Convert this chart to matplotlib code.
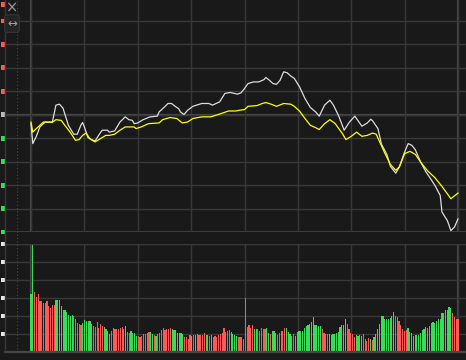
import numpy as np
import matplotlib
matplotlib.use("Agg")
import matplotlib.pyplot as plt
from matplotlib.lines import Line2D

# ---------------- data ----------------
# price line (percent change vs previous close) sampled at trading minutes
price_t = [0, 1, 3, 5, 8, 12, 14, 16, 18, 21, 24, 26, 28, 29, 30, 32, 34, 36, 38, 40,
           43, 44, 47, 50, 53, 55, 57, 58, 60, 63, 67, 71, 72, 75, 77, 79, 81, 83, 84, 86,
           88, 91, 96, 100, 102, 106, 109, 112, 116, 118, 120, 122, 125, 128, 131, 132, 134, 136, 138, 140,
           142, 144, 146, 148, 151, 154, 157, 160, 162, 165, 168, 170, 173, 176, 179, 182, 186, 189, 191, 192,
           195, 197, 200, 202, 205, 207, 210, 212, 214, 216, 219, 222, 224, 227, 230, 231, 234, 236, 238, 240]
price_p = [-0.38, -1.23, -0.92, -0.52, -0.31, -0.31, 0.41, 0.45, 0.28, -0.45, -0.83, -0.83, -0.45, -0.33, -0.52, -0.97, -1.06, -1.12, -0.88, -0.66,
           -0.66, -0.74, -0.69, -0.31, -0.09, -0.21, -0.24, -0.38, -0.35, -0.21, -0.09, -0.06, 0.12, 0.33, 0.48, 0.48, 0.36, 0.26, 0.12, 0.01,
           0.19, 0.36, 0.48, 0.48, 0.41, 0.55, 0.91, 0.95, 0.88, 0.93, 1.12, 1.33, 1.40, 1.40, 1.50, 1.59, 1.47, 1.33, 1.30, 1.47,
           1.83, 1.79, 1.65, 1.55, 1.18, 0.69, 0.31, 0.12, -0.06, 0.41, 0.62, 0.41, -0.06, -0.66, -0.31, -0.06, -0.49, -0.35, -0.19, -0.26,
           -0.59, -1.26, -1.69, -2.20, -2.49, -2.23, -1.59, -1.23, -1.30, -1.49, -2.02, -2.44, -2.66, -3.01, -3.44, -4.15, -4.51, -4.94, -4.79, -4.44]

# average price line
avg_t = [0, 1, 3, 7, 12, 14, 17, 19, 22, 25, 27, 29, 31, 33, 36, 39, 42, 44, 47, 50,
         53, 58, 59, 62, 66, 72, 74, 78, 82, 85, 88, 91, 96, 101, 104, 108, 111, 115, 117, 120,
         122, 127, 130, 132, 135, 138, 142, 146, 148, 151, 154, 157, 160, 162, 165, 168, 171, 175, 177, 180,
         183, 186, 189, 192, 194, 196, 199, 202, 205, 207, 210, 213, 216, 220, 223, 227, 231, 234, 236, 240]
avg_p = [-0.31, -0.74, -0.59, -0.31, -0.32, -0.21, -0.24, -0.45, -0.74, -1.09, -1.06, -0.88, -0.78, -1.02, -1.16, -1.02, -0.88, -0.88, -0.83, -0.66,
         -0.52, -0.52, -0.59, -0.52, -0.38, -0.35, -0.21, -0.12, -0.16, -0.35, -0.31, -0.16, -0.09, -0.09, -0.02, 0.08, 0.16, 0.16, 0.19, 0.22,
         0.36, 0.39, 0.48, 0.52, 0.45, 0.36, 0.48, 0.45, 0.36, 0.15, -0.16, -0.45, -0.55, -0.63, -0.38, -0.21, -0.38, -0.80, -1.06, -0.92,
         -0.74, -0.92, -0.88, -0.78, -0.83, -1.16, -1.66, -2.12, -2.37, -2.23, -1.66, -1.56, -1.69, -2.12, -2.40, -2.68, -3.06, -3.37, -3.58, -3.34]

# per-minute volume
volume = [58, 107, 60, 55, 58, 51, 51, 49, 49, 51, 46, 44, 47, 47, 52, 52, 52, 46, 42, 42,
          40, 37, 36, 37, 36, 33, 29, 28, 27, 29, 32, 31, 31, 31, 28, 26, 25, 30, 24, 28,
          26, 25, 23, 21, 18, 21, 24, 23, 23, 23, 24, 25, 23, 26, 20, 19, 21, 19, 19, 16,
          16, 15, 16, 18, 18, 19, 20, 20, 18, 17, 16, 18, 19, 22, 24, 22, 23, 23, 24, 23,
          22, 22, 19, 19, 19, 18, 15, 15, 13, 17, 16, 17, 17, 18, 17, 17, 17, 19, 17, 17,
          16, 17, 15, 16, 15, 17, 18, 19, 24, 20, 21, 22, 20, 18, 17, 16, 15, 15, 15, 13,
          54, 25, 27, 24, 27, 23, 23, 23, 21, 24, 23, 23, 24, 19, 18, 21, 21, 19, 17, 19,
          21, 21, 24, 24, 20, 18, 16, 18, 16, 20, 21, 21, 21, 24, 26, 27, 28, 30, 35, 27,
          27, 26, 26, 23, 19, 18, 18, 18, 17, 18, 18, 19, 20, 25, 27, 27, 33, 28, 23, 19,
          18, 15, 17, 16, 17, 16, 18, 13, 11, 14, 13, 12, 15, 18, 23, 28, 36, 36, 33, 33,
          33, 34, 36, 40, 36, 35, 31, 27, 23, 21, 22, 24, 20, 19, 16, 17, 17, 17, 19, 22,
          23, 25, 24, 26, 29, 30, 29, 31, 33, 33, 39, 39, 42, 42, 45, 44, 39, 35, 33, 33]

# R = up minute (red), G = down minute (green)
direction = ("GG RRRRRRRRRRRR GGGGGGGGGG RRRRR GGGGGG RRRRRR GGGG RRRRRRRR G RR GGGG RRRRRRR GG R G RRRRRRRR G "
             "GGGGGG RRRR G R G RRRRR GG R G RRRRRRRRRR GGGG RRRRRRRRR GG RRRRR GG R GGG RRRRR GGGG R GGGGGGGGGGGGGG "
             "G RRRR GGGGGGGGGG RRRRR GGGG RRRR G R GGGGGGGGGGGG RRRRRRR GGGGGGGGGGGGGGGGGGGGGGGGG RRRR").replace(" ", "")

price_ticks = [-5, -4, -3, -2, -1, 0, 1, 2, 3, 4, 5]
price_label_marks = [-5, -4, -3, -2, -1, 0, 1, 2, 3, 4, 4.7]
vol_ticks = [0, 18, 36, 54, 72, 90, 108]
vol_label_marks = [18, 36, 54, 72, 90, 108]

# ---------------- style ----------------
BG = "#191919"
GRID = "#383838"
GRID2 = "#474747"
RED = "#ff5858"
GREEN = "#38dc58"
W, H = 466, 360
PXM = 427 / 240.0  # pixels per minute

fig = plt.figure(figsize=(W / 100, H / 100), dpi=100)
fig.patch.set_facecolor(BG)

x0 = (5 - 31) / PXM
x1 = (466 - 31) / PXM

ax1 = fig.add_axes([5 / W, (H - 232) / H, 461 / W, 234.5 / H])
ax2 = fig.add_axes([5 / W, (H - 352) / H, 461 / W, 108 / H])

# marker: small block sitting just left of the axis edge (clipped label stubs)
stub = [(-1.0, -0.6), (0.0, -0.6), (0.0, 0.6), (-1.0, 0.6), (-1.0, -0.6)]

for ax in (ax1, ax2):
    ax.set_facecolor(BG)
    ax.set_xlim(x0, x1)
    ax.set_xticks(np.arange(0, 241, 30))
    ax.tick_params(axis="both", length=0, labelbottom=False, labelleft=False)
    ax.grid(True, color=GRID, lw=1.0)
    for s in ("top", "right", "bottom"):
        ax.spines[s].set_visible(False)
    ax.spines["left"].set_color(GRID)
    ax.axvline(0, color=GRID2, lw=1.6, zorder=1)
    ax.axvline(240, color=GRID2, lw=1.6, zorder=1)

# price panel
ax1.set_ylim(-5, 5)
ax1.set_yticks(price_ticks)
ax1.axhline(0, color=GRID2, lw=1.6, zorder=1)
ax1.axhline(-5, color=GRID2, lw=1.2, zorder=1)
mcols = [RED if v > 0 else (GREEN if v < 0 else "#bbbbbb") for v in price_label_marks]
ax1.scatter([x0] * len(price_label_marks), price_label_marks, marker=stub, s=(5.8) ** 2,
            c=mcols, linewidths=0, clip_on=False, zorder=5)

ax1.plot(price_t, price_p, color="#dcdcdc", lw=0.9, zorder=3)
ax1.plot(avg_t, avg_p, color="#ffff00", lw=0.9, zorder=3)

# volume panel
n = min(len(volume), len(direction))
vt = np.linspace(0, 240, n)
cols = [RED if c == "R" else GREEN for c in direction[:n]]
ax2.set_ylim(0, 108)
ax2.set_yticks(vol_ticks)
ax2.bar(vt, volume[:n], width=0.66, color=cols, linewidth=0, zorder=3, antialiased=False)
ax2.axhline(0, color=GRID2, lw=1.6, zorder=4, clip_on=False)
ax2.axhline(108, color=GRID, lw=1.0, zorder=2)
ax2.scatter([x0] * len(vol_label_marks), vol_label_marks, marker=stub, s=(5.8) ** 2,
            c="#e6e6e6", linewidths=0, clip_on=False, zorder=5)

# left guide lines
fig.add_artist(Line2D([5 / W, 5 / W], [(H - 352) / H, 1], color=GRID, lw=1.0))
fig.add_artist(Line2D([17 / W, 17 / W], [(H - 352) / H, 1], color="#4a4a4a", lw=0.8,
                      linestyle=(0, (1, 2))))

# UI icons
fig.text(12 / W, 1 - 8 / H, "×", ha="center", va="center", fontsize=10.5, color="#9a9a9a")
fig.text(12 / W, 1 - 23.5 / H, "↔", ha="center", va="center", fontsize=8.5, color="#a0a0a0",
         bbox=dict(boxstyle="round,pad=0.2", fc="#242424", ec="#343434", lw=0.8))

fig.savefig("out.png", dpi=100, facecolor=BG)
